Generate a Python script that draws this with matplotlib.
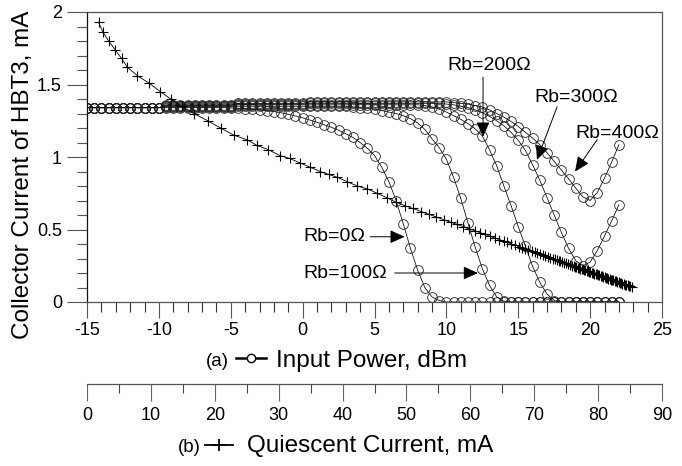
import matplotlib
matplotlib.use('Agg')
import matplotlib.pyplot as plt
import numpy as np
from matplotlib.ticker import MultipleLocator
from matplotlib.lines import Line2D
from matplotlib.patches import ArrowStyle

plt.rcParams['font.family'] = ['Liberation Sans', 'DejaVu Sans']

# ---------------- data ----------------
# (a) input power sweep, dBm
power_dbm = np.arange(-15, 22.5, 0.5)

rb0 = ([1.34] * 19 +
       [1.34, 1.338, 1.336, 1.333, 1.33, 1.326, 1.32, 1.313, 1.305, 1.295,
        1.283, 1.27, 1.255, 1.24, 1.222, 1.205, 1.185, 1.16, 1.135, 1.10,
        1.06, 1.01, 0.93, 0.83, 0.70, 0.54, 0.37, 0.22, 0.10, 0.035, 0.01] +
       [0.0] * 25)

rb100 = ([1.34] * 11 + [1.345] * 10 + [1.35] * 16 +
         [1.345, 1.34, 1.335, 1.33, 1.32, 1.31, 1.30, 1.285, 1.265, 1.235,
          1.19, 1.125, 1.065, 0.985, 0.86, 0.715, 0.545, 0.38, 0.23, 0.115,
          0.035, 0.005] +
         [0.0] * 16)

rb200 = ([1.34] * 11 + [1.35] * 10 + [1.36] * 26 +
         [1.355, 1.345, 1.33, 1.31, 1.285, 1.26, 1.23, 1.195, 1.145, 1.05,
          0.94, 0.80, 0.665, 0.52, 0.385, 0.245, 0.135, 0.055, 0.01] +
         [0.0] * 9)

rb300 = ([1.34] * 11 + [1.355] * 10 + [1.365] * 10 + [1.37] * 19 +
         [1.365, 1.36, 1.35, 1.34, 1.325, 1.305, 1.28, 1.25, 1.215, 1.17,
          1.115, 1.045, 0.945, 0.84, 0.72, 0.60, 0.48, 0.37, 0.285, 0.25,
          0.275, 0.355, 0.455, 0.56, 0.67])

rb400 = ([1.34] * 11 + [1.36] * 10 + [1.37] * 10 + [1.38] * 20 +
         [1.375, 1.37, 1.365, 1.355, 1.345, 1.325, 1.30, 1.275, 1.245, 1.21,
          1.17, 1.13, 1.085, 1.03, 0.97, 0.91, 0.85, 0.785, 0.725, 0.70,
          0.755, 0.855, 0.965, 1.085])

# (b) quiescent current sweep, mA
quiescent_ma = [1.8, 2.5, 3.4, 4.4, 5.4, 6.3, 7.9, 9.7, 11.5, 13.1, 14.9, 16.7,
                18.9, 20.9, 23.0, 25.0, 26.6, 28.4, 30.2, 31.7, 33.3, 34.9, 36.5,
                37.8, 39.2, 40.7, 42.3, 43.9, 45.4, 46.9, 48.3, 49.7, 51.0, 52.3,
                53.5, 54.7, 55.8, 56.9, 57.9, 58.9, 59.8, 60.7, 61.5, 62.3, 63.1,
                63.8, 64.5, 65.2, 65.8, 66.4, 67.0, 67.6, 68.1, 68.6, 69.1, 69.6,
                70.1, 70.5, 70.9, 71.3, 71.7, 72.1, 72.5, 72.9, 73.2, 73.5, 73.8,
                74.1, 74.4, 74.7, 75.0, 75.3, 75.6, 75.9, 76.2, 76.4, 76.6, 76.8,
                77.0, 77.2, 77.4, 77.6, 77.8, 78.0, 78.2, 78.4, 78.6, 78.8, 79.0,
                79.2, 79.4, 79.6, 79.8, 80.0, 80.2, 80.4, 80.6, 80.8, 81.0, 81.2,
                81.4, 81.6, 81.8, 82.0, 82.2, 82.4, 82.6, 82.8, 83.0, 83.2, 83.4,
                83.6, 83.8, 84.0, 84.2, 84.4, 84.6, 84.8, 85.0, 85.3]
ic_quiescent = [1.93, 1.86, 1.80, 1.74, 1.68, 1.62, 1.56, 1.51, 1.45, 1.40, 1.35,
                1.30, 1.25, 1.20, 1.15, 1.12, 1.08, 1.05, 1.01, 0.99, 0.96, 0.93,
                0.90, 0.88, 0.86, 0.83, 0.80, 0.78, 0.75, 0.72, 0.69, 0.665, 0.645,
                0.624, 0.605, 0.586, 0.568, 0.551, 0.535, 0.520, 0.505, 0.491,
                0.479, 0.466, 0.453, 0.442, 0.431, 0.420, 0.411, 0.401, 0.392,
                0.382, 0.374, 0.366, 0.359, 0.351, 0.343, 0.337, 0.330, 0.324,
                0.318, 0.311, 0.305, 0.299, 0.294, 0.289, 0.284, 0.280, 0.275,
                0.270, 0.266, 0.261, 0.256, 0.251, 0.247, 0.243, 0.240, 0.237,
                0.234, 0.231, 0.228, 0.225, 0.221, 0.218, 0.215, 0.212, 0.209,
                0.206, 0.202, 0.199, 0.196, 0.193, 0.190, 0.187, 0.183, 0.180,
                0.177, 0.174, 0.171, 0.168, 0.165, 0.161, 0.158, 0.155, 0.152,
                0.149, 0.146, 0.142, 0.139, 0.136, 0.133, 0.130, 0.127, 0.124,
                0.120, 0.117, 0.114, 0.111, 0.108, 0.103]

yticks = [0, 0.5, 1, 1.5, 2]
ytick_labels = ['0', '0.5', '1', '1.5', '2']
xticks_a = [-15, -10, -5, 0, 5, 10, 15, 20, 25]
xticks_b = [0, 10, 20, 30, 40, 50, 60, 70, 80, 90]

annotations = [
    ('Rb=0\u03a9', (2.2, 0.45), (4.7, 0.45), (7.1, 0.45)),
    ('Rb=100\u03a9', (2.95, 0.20), (6.4, 0.20), (12.2, 0.20)),
    ('Rb=200\u03a9', (13.0, 1.63), (12.55, 1.55), (12.55, 1.14)),
    ('Rb=300\u03a9', (19.0, 1.41), (17.7, 1.345), (16.3, 0.98)),
    ('Rb=400\u03a9', (21.9, 1.165), (20.5, 1.12), (18.95, 0.90)),
]

# ---------------- figure ----------------
W, H = 682, 466
fig = plt.figure(figsize=(W / 100, H / 100), dpi=100)
ax = fig.add_axes([87 / W, 1 - 302 / H, 575 / W, 290 / H])
frame_col = '#555555'

circ_kw = dict(color='black', lw=0.55, marker='o', ms=7, mfc='none',
               mec='#222222', mew=0.6)
for series in (rb0, rb100, rb200, rb300, rb400):
    ax.plot(power_dbm, series, **circ_kw)

ax.set_xlim(-15, 25)
ax.set_ylim(0, 2)
ax.set_xticks(xticks_a)
ax.set_xticklabels([str(v) for v in xticks_a])
ax.xaxis.set_minor_locator(MultipleLocator(1))
ax.set_yticks(yticks)
ax.set_yticklabels(ytick_labels)
ax.yaxis.set_minor_locator(MultipleLocator(0.1))
ax.tick_params(axis='x', which='major', direction='out', length=11.5,
               width=0.8, color=frame_col, labelsize=13, pad=2.6)
ax.tick_params(axis='x', which='minor', direction='out', length=7,
               width=0.8, color='#333333')
ax.tick_params(axis='y', which='major', direction='out', length=14.4,
               width=0.8, color=frame_col, labelsize=13, pad=3.6)
ax.tick_params(axis='y', which='minor', direction='out', length=7.2,
               width=0.8, color=frame_col)
for s in ax.spines.values():
    s.set_color(frame_col)
    s.set_linewidth(0.9)
ax.spines['left'].set_color('#111111')

# twin axis for quiescent current
ax2 = ax.twiny()
ax2.set_xlim(0, 90)
ax2.plot(quiescent_ma, ic_quiescent, color='black', lw=0.6, marker='+',
         ms=7, mew=0.8)
ax2.xaxis.tick_bottom()
ax2.set_xticks(xticks_b)
ax2.set_xticklabels([str(v) for v in xticks_b])
ax2.xaxis.set_minor_locator(MultipleLocator(5))
for k in ('top', 'left', 'right'):
    ax2.spines[k].set_visible(False)
ax2.spines['bottom'].set_position(('outward', 59))
ax2.spines['bottom'].set_color(frame_col)
ax2.spines['bottom'].set_linewidth(0.9)
ax2.tick_params(axis='x', which='major', direction='out', length=12.2,
                width=0.8, color='#666666', labelsize=13, pad=4.7)
ax2.tick_params(axis='x', which='minor', direction='out', length=6.5,
                width=0.8, color='#444444')

# annotations
astyle = ArrowStyle('-|>', head_length=0.6, head_width=0.27)
for txt, tpos, start, tip in annotations:
    ax.text(tpos[0], tpos[1], txt, ha='center', va='center', fontsize=14)
    ax.annotate('', xy=tip, xytext=start,
                arrowprops=dict(arrowstyle=astyle, color='black', lw=0.7,
                                mutation_scale=15, shrinkA=0, shrinkB=0))

# axis labels
fig.text(23.5 / W, 1 - 175 / H, 'Collector Current of HBT3, mA', rotation=90,
         ha='center', va='center', fontsize=17.5)

fig.text(229 / W, 1 - 366 / H, '(a)', ha='right', va='baseline', fontsize=13.5)
fig.add_artist(Line2D([236 / W, 251 / W, 266 / W], [1 - 358 / H] * 3,
                      transform=fig.transFigure, color='black', lw=1.8,
                      marker='o', ms=6, mfc='white', mec='black', mew=1.0,
                      markevery=[1]))
fig.text(276 / W, 1 - 367 / H, 'Input Power, dBm', ha='left', va='baseline',
         fontsize=17.5)

fig.text(201 / W, 1 - 452 / H, '(b)', ha='right', va='baseline', fontsize=13.5)
fig.add_artist(Line2D([205 / W, 219 / W, 233 / W], [1 - 445 / H] * 3,
                      transform=fig.transFigure, color='black', lw=1.3,
                      marker='+', ms=9, mew=1.3, markevery=[1]))
fig.text(247 / W, 1 - 452 / H, 'Quiescent Current, mA', ha='left',
         va='baseline', fontsize=17.5)

fig.savefig('out.png', dpi=100)
